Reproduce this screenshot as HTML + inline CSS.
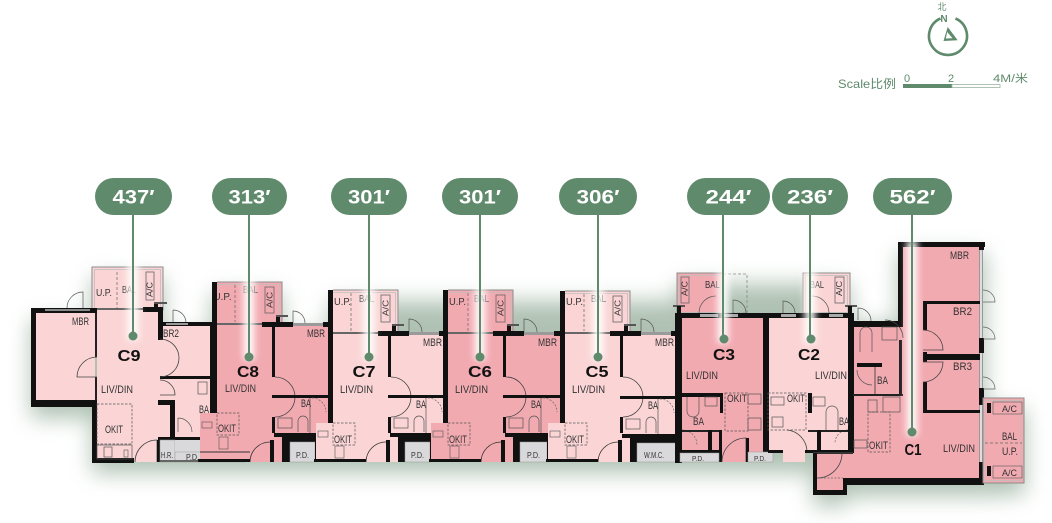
<!DOCTYPE html>
<html><head><meta charset="utf-8"><style>html,body{margin:0;padding:0;background:#fff;}svg{display:block;}</style></head>
<body>
<svg width="1052" height="523" viewBox="0 0 1052 523" xmlns="http://www.w3.org/2000/svg" font-family="'Liberation Sans', 'Noto Sans CJK SC', sans-serif">
<defs>
 <filter id="sh" x="-10%" y="-40%" width="120%" height="200%"><feGaussianBlur stdDeviation="11"/></filter>
 <filter id="gl" x="-100%" y="-20%" width="300%" height="140%"><feGaussianBlur stdDeviation="3.5"/></filter>
</defs>
<rect width="1052" height="523" fill="#fff"/>

<!-- shadow -->
<polygon filter="url(#sh)" fill="#7f9c85" opacity="0.62" transform="translate(0,11)" points="31,309 92,309 92,267 163,267 163,323 212,323 212,282 282,282 282,323 330,323 330,290 677,290 677,273 850,273 850,313 898,313 898,242 985,242 985,398 1025,398 1025,483 985,485 847,485 847,495 813,495 813,462 92,462 92,407 31,407"/>

<g fill="#333" font-size="10">
<!-- ================= C9 ================= -->
<rect x="92" y="267" width="71" height="43" fill="#fbd5d6" stroke="#8c8c8c" stroke-width="1"/>
<rect x="94.5" y="269.5" width="66" height="40" fill="none" stroke="#bdbdbd" stroke-width="0.8"/>
<line x1="117" y1="272" x2="117" y2="308" stroke="#666" stroke-width="0.7" stroke-dasharray="3 2"/>
<rect x="146" y="272" width="8" height="28" fill="none" stroke="#666" stroke-width="0.8"/>
<text x="96" y="296" textLength="16" lengthAdjust="spacingAndGlyphs">U.P.</text>
<text x="122" y="293" textLength="14" lengthAdjust="spacingAndGlyphs">BAL</text>
<text transform="translate(152.5,297) rotate(-90)" font-size="8" textLength="15" lengthAdjust="spacingAndGlyphs">A/C</text>
<rect x="154" y="303" width="4" height="8" fill="#111"/><rect x="154" y="302" width="13" height="2" fill="#555"/>
<path d="M67 308 A16 16 0 0 1 83 292 V308" fill="none" stroke="#555" stroke-width="0.7"/>
<path d="M173 310 A13 13 0 0 1 186 323 M173 310 V323" fill="none" stroke="#555" stroke-width="0.7"/>
<!-- fills -->
<rect x="36" y="313" width="59" height="87" fill="#fbd5d6"/>
<rect x="97" y="310" width="63" height="152" fill="#fbd5d6"/>
<rect x="160" y="325" width="52" height="115" fill="#fbd5d6"/>
<!-- walls -->
<rect x="31" y="308" width="66" height="5" fill="#111"/>
<rect x="45" y="309" width="45" height="2" fill="#888"/>
<rect x="31" y="308" width="5" height="99" fill="#111"/>
<rect x="31" y="400" width="66" height="7" fill="#111"/>
<rect x="92" y="400" width="5" height="63" fill="#111"/>
<rect x="92" y="458" width="42" height="5" fill="#111"/>
<rect x="95" y="313" width="2" height="44" fill="#222"/><rect x="95" y="377" width="2" height="23" fill="#222"/>
<rect x="97" y="308" width="46" height="2" fill="#666"/>
<rect x="143" y="307" width="20" height="5" fill="#111"/>
<rect x="158" y="308" width="5" height="32" fill="#111"/>
<rect x="160" y="322" width="52" height="4" fill="#111"/>
<rect x="166" y="323" width="22" height="2" fill="#999"/>
<rect x="210" y="322" width="7" height="93" fill="#111"/>
<rect x="160" y="376" width="52" height="3" fill="#111"/>
<rect x="158" y="400" width="17" height="5" fill="#111"/>
<rect x="170" y="400" width="5" height="40" fill="#111"/>
<rect x="158" y="437" width="87" height="3" fill="#111"/>
<path d="M97 357 A20 20 0 0 0 77 377 H97" fill="none" stroke="#444" stroke-width="0.8"/>
<path d="M160 339 A19 19 0 0 1 160 377" fill="none" stroke="#444" stroke-width="0.8"/>
<path d="M160 380 A15 15 0 0 1 175 395 H160" fill="none" stroke="#444" stroke-width="0.8"/>
<rect x="198" y="382" width="9" height="12" fill="none" stroke="#555" stroke-width="0.7"/>
<path d="M178 418 A14 14 0 0 1 192 432 M178 418 V432" fill="none" stroke="#555" stroke-width="0.7"/>
<!-- kitchen -->
<rect x="97" y="404" width="35" height="40" fill="none" stroke="#555" stroke-width="0.7" stroke-dasharray="2.5 1.5"/>
<rect x="97" y="445" width="35" height="14" fill="none" stroke="#555" stroke-width="0.7"/>
<rect x="104" y="447" width="8" height="10" fill="none" stroke="#555" stroke-width="0.7"/>
<rect x="124" y="450" width="4" height="7" fill="none" stroke="#555" stroke-width="0.6"/>
<path d="M135 462 A22 22 0 0 1 157 440 V462" fill="none" stroke="#444" stroke-width="0.8"/>
<rect x="157" y="440" width="3" height="22" fill="#111"/>
<rect x="160" y="440" width="15" height="22" fill="#d9d9db" stroke="#999" stroke-width="0.5"/>
<rect x="175" y="440" width="25" height="22" fill="#d9d9db"/>
<rect x="175" y="452" width="70" height="10" fill="#d9d9db" stroke="#999" stroke-width="0.5"/>
<rect x="160" y="460" width="85" height="2" fill="#666"/>
<text x="72" y="325" font-size="11" textLength="17" lengthAdjust="spacingAndGlyphs">MBR</text>
<text x="163" y="337" font-size="11" textLength="16" lengthAdjust="spacingAndGlyphs">BR2</text>
<text x="101" y="393" font-size="11" textLength="32" lengthAdjust="spacingAndGlyphs">LIV/DIN</text>
<text x="199" y="413" font-size="11" textLength="10" lengthAdjust="spacingAndGlyphs">BA</text>
<text x="105" y="433" font-size="11" textLength="18" lengthAdjust="spacingAndGlyphs">OKIT</text>
<text x="161" y="458" font-size="8" textLength="12" lengthAdjust="spacingAndGlyphs">H.R.</text>
<text x="186" y="460" font-size="8" textLength="13" lengthAdjust="spacingAndGlyphs">P.D.</text>

<!-- ================= C8 (L=212,T=323,B=282) ================= -->
<g transform="translate(212,0)">
 <rect x="5" y="282" width="65" height="41" fill="#f2aab1"/>
 <path d="M5 282 H70 V323" fill="none" stroke="#8c8c8c" stroke-width="1"/>
 <path d="M5 284.5 H67.5 V323" fill="none" stroke="#bdbdbd" stroke-width="0.8"/>
 <line x1="23" y1="285" x2="23" y2="322" stroke="#666" stroke-width="0.7" stroke-dasharray="3 2"/>
 <rect x="53" y="287" width="9" height="26" fill="none" stroke="#666" stroke-width="0.8"/>
 <text x="1.5" y="300" textLength="18" lengthAdjust="spacingAndGlyphs">U.P.</text>
 <text x="31" y="293" textLength="15" lengthAdjust="spacingAndGlyphs">BAL</text>
 <text transform="translate(60.5,308) rotate(-90)" font-size="8" textLength="16" lengthAdjust="spacingAndGlyphs">A/C</text>
 <rect x="64" y="316" width="4" height="8" fill="#111"/><rect x="64" y="315" width="12" height="2" fill="#555"/>
 <path d="M81 323 V311 A12 12 0 0 1 93 323" fill="none" stroke="#555" stroke-width="0.7"/>
 <rect x="5" y="323" width="113" height="139" fill="#f2aab1"/>
 <rect x="-12" y="413" width="17" height="49" fill="#f2aab1"/>
 <rect x="0" y="282" width="5" height="131" fill="#111"/>
 <rect x="5" y="323" width="45" height="2" fill="#666"/>
 <rect x="50" y="322" width="31" height="5" fill="#111"/>
 <rect x="81" y="323" width="30" height="3" fill="#9a9a9a"/>
 <rect x="111" y="322" width="7" height="5" fill="#111"/>
 <rect x="60" y="325" width="3" height="52" fill="#111"/>
 <path d="M63 377 A20 20 0 0 1 63 417" fill="none" stroke="#444" stroke-width="0.8"/>
 <rect x="60" y="395" width="58" height="3" fill="#111"/>
 <rect x="60" y="417" width="3" height="16" fill="#111"/>
 <rect x="66" y="418" width="14" height="10" fill="none" stroke="#555" stroke-width="0.7"/>
 <path d="M86 432 V421 A5 5 0 0 1 96 421 V432" fill="none" stroke="#555" stroke-width="0.7"/>
 <line x1="98" y1="398" x2="98" y2="433" stroke="#555" stroke-width="0.7"/>
 <path d="M100 398 A14 14 0 0 1 114 412" fill="none" stroke="#666" stroke-width="0.7" stroke-dasharray="2 1.5"/>
 <text x="89" y="407" font-size="11" textLength="10" lengthAdjust="spacingAndGlyphs">BA</text>
 <rect x="62" y="433" width="56" height="4" fill="#111"/>
 <rect x="70" y="437" width="48" height="5" fill="#111"/>
 <rect x="70" y="437" width="8" height="25" fill="#111"/>
 <rect x="78" y="442" width="25" height="20" fill="#d9d9db" stroke="#999" stroke-width="0.5"/>
 <rect x="103" y="437" width="3" height="25" fill="#111"/>
 <text x="84" y="458" font-size="8" textLength="13" lengthAdjust="spacingAndGlyphs">P.D.</text>
 <path d="M38 462 A20 20 0 0 1 58 442" fill="none" stroke="#333" stroke-width="0.8"/>
 <rect x="58" y="440" width="4" height="22" fill="#111"/>
 <rect x="5" y="413" width="22" height="22" fill="none" stroke="#555" stroke-width="0.7" stroke-dasharray="2.5 1.5"/>
 <rect x="-10" y="422" width="10" height="6" fill="none" stroke="#555" stroke-width="0.6"/>
 <rect x="7" y="437" width="9" height="12" fill="none" stroke="#555" stroke-width="0.6"/>
 <line x1="-12" y1="452" x2="38" y2="452" stroke="#333" stroke-width="1"/>
 <rect x="-14" y="459" width="52" height="3" fill="#111"/>
 <text x="6" y="432" font-size="11" textLength="18" lengthAdjust="spacingAndGlyphs">OKIT</text>
 <text x="95" y="337" font-size="11" textLength="18" lengthAdjust="spacingAndGlyphs">MBR</text>
 <text x="13" y="392" font-size="11" textLength="31" lengthAdjust="spacingAndGlyphs">LIV/DIN</text>
</g>

<!-- ================= C7 (L=328,T=332,B=290) ================= -->
<g transform="translate(328,0)">
 <rect x="5" y="290" width="65" height="42" fill="#fbd5d6"/>
 <path d="M5 290 H70 V332" fill="none" stroke="#8c8c8c" stroke-width="1"/>
 <path d="M5 292.5 H67.5 V332" fill="none" stroke="#bdbdbd" stroke-width="0.8"/>
 <line x1="23" y1="293" x2="23" y2="331" stroke="#666" stroke-width="0.7" stroke-dasharray="3 2"/>
 <rect x="53" y="295" width="9" height="27" fill="none" stroke="#666" stroke-width="0.8"/>
 <text x="6" y="305" textLength="17" lengthAdjust="spacingAndGlyphs">U.P.</text>
 <text x="31" y="302" textLength="15" lengthAdjust="spacingAndGlyphs">BAL</text>
 <text transform="translate(60.5,316) rotate(-90)" font-size="8" textLength="16" lengthAdjust="spacingAndGlyphs">A/C</text>
 <rect x="64" y="325" width="4" height="8" fill="#111"/><rect x="64" y="324" width="12" height="2" fill="#555"/>
 <path d="M81 332 V319 A13 13 0 0 1 94 332" fill="none" stroke="#555" stroke-width="0.7"/>
 <rect x="5" y="332" width="113" height="130" fill="#fbd5d6"/>
 <rect x="-12" y="423" width="17" height="39" fill="#fbd5d6"/>
 <rect x="0" y="290" width="5" height="133" fill="#111"/>
 <rect x="5" y="332" width="45" height="2" fill="#666"/>
 <rect x="50" y="331" width="31" height="5" fill="#111"/>
 <rect x="81" y="332" width="30" height="3" fill="#9a9a9a"/>
 <rect x="111" y="331" width="7" height="5" fill="#111"/>
 <rect x="60" y="334" width="3" height="43" fill="#111"/>
 <path d="M63 377 A20 20 0 0 1 63 417" fill="none" stroke="#444" stroke-width="0.8"/>
 <rect x="60" y="395" width="58" height="3" fill="#111"/>
 <rect x="60" y="417" width="3" height="16" fill="#111"/>
 <rect x="66" y="418" width="14" height="10" fill="none" stroke="#555" stroke-width="0.7"/>
 <path d="M86 432 V421 A5 5 0 0 1 96 421 V432" fill="none" stroke="#555" stroke-width="0.7"/>
 <line x1="98" y1="398" x2="98" y2="433" stroke="#555" stroke-width="0.7"/>
 <path d="M100 398 A14 14 0 0 1 114 412" fill="none" stroke="#666" stroke-width="0.7" stroke-dasharray="2 1.5"/>
 <text x="88" y="408" font-size="11" textLength="10" lengthAdjust="spacingAndGlyphs">BA</text>
 <rect x="62" y="433" width="56" height="4" fill="#111"/>
 <rect x="70" y="437" width="48" height="5" fill="#111"/>
 <rect x="70" y="437" width="7" height="25" fill="#111"/>
 <rect x="77" y="442" width="25" height="20" fill="#d9d9db" stroke="#999" stroke-width="0.5"/>
 <rect x="102" y="437" width="3" height="25" fill="#111"/>
 <text x="83" y="458" font-size="8" textLength="13" lengthAdjust="spacingAndGlyphs">P.D.</text>
 <path d="M38 462 A20 20 0 0 1 58 442" fill="none" stroke="#333" stroke-width="0.8"/>
 <rect x="58" y="440" width="4" height="22" fill="#111"/>
 <rect x="5" y="423" width="22" height="22" fill="none" stroke="#555" stroke-width="0.7" stroke-dasharray="2.5 1.5"/>
 <rect x="-10" y="431" width="10" height="6" fill="none" stroke="#555" stroke-width="0.6"/>
 <rect x="7" y="446" width="9" height="12" fill="none" stroke="#555" stroke-width="0.6"/>
 <rect x="-14" y="459" width="52" height="3" fill="#111"/>
 <text x="6" y="443" font-size="11" textLength="18" lengthAdjust="spacingAndGlyphs">OKIT</text>
 <text x="95" y="346" font-size="11" textLength="19" lengthAdjust="spacingAndGlyphs">MBR</text>
 <text x="12" y="393" font-size="11" textLength="33" lengthAdjust="spacingAndGlyphs">LIV/DIN</text>
</g>

<!-- ================= C6 (L=443,T=332,B=290) ================= -->
<g transform="translate(443,0)">
 <rect x="5" y="290" width="65" height="42" fill="#f2aab1"/>
 <path d="M5 290 H70 V332" fill="none" stroke="#8c8c8c" stroke-width="1"/>
 <path d="M5 292.5 H67.5 V332" fill="none" stroke="#bdbdbd" stroke-width="0.8"/>
 <line x1="25" y1="293" x2="25" y2="331" stroke="#666" stroke-width="0.7" stroke-dasharray="3 2"/>
 <rect x="53" y="295" width="9" height="27" fill="none" stroke="#666" stroke-width="0.8"/>
 <text x="6" y="305" textLength="17" lengthAdjust="spacingAndGlyphs">U.P.</text>
 <text x="31" y="302" textLength="15" lengthAdjust="spacingAndGlyphs">BAL</text>
 <text transform="translate(60.5,316) rotate(-90)" font-size="8" textLength="16" lengthAdjust="spacingAndGlyphs">A/C</text>
 <rect x="64" y="325" width="4" height="8" fill="#111"/><rect x="64" y="324" width="12" height="2" fill="#555"/>
 <path d="M81 332 V319 A13 13 0 0 1 94 332" fill="none" stroke="#555" stroke-width="0.7"/>
 <rect x="5" y="332" width="114" height="130" fill="#f2aab1"/>
 <rect x="-12" y="423" width="17" height="39" fill="#f2aab1"/>
 <rect x="0" y="290" width="5" height="133" fill="#111"/>
 <rect x="5" y="332" width="45" height="2" fill="#666"/>
 <rect x="50" y="331" width="31" height="5" fill="#111"/>
 <rect x="81" y="332" width="30" height="3" fill="#9a9a9a"/>
 <rect x="111" y="331" width="7" height="5" fill="#111"/>
 <rect x="60" y="334" width="3" height="43" fill="#111"/>
 <path d="M63 377 A20 20 0 0 1 63 417" fill="none" stroke="#444" stroke-width="0.8"/>
 <rect x="60" y="395" width="58" height="3" fill="#111"/>
 <rect x="60" y="417" width="3" height="16" fill="#111"/>
 <rect x="66" y="418" width="14" height="10" fill="none" stroke="#555" stroke-width="0.7"/>
 <path d="M86 432 V421 A5 5 0 0 1 96 421 V432" fill="none" stroke="#555" stroke-width="0.7"/>
 <line x1="98" y1="398" x2="98" y2="433" stroke="#555" stroke-width="0.7"/>
 <path d="M100 398 A14 14 0 0 1 114 412" fill="none" stroke="#666" stroke-width="0.7" stroke-dasharray="2 1.5"/>
 <text x="88" y="408" font-size="11" textLength="10" lengthAdjust="spacingAndGlyphs">BA</text>
 <rect x="62" y="433" width="56" height="4" fill="#111"/>
 <rect x="70" y="437" width="48" height="5" fill="#111"/>
 <rect x="70" y="437" width="7" height="25" fill="#111"/>
 <rect x="77" y="442" width="27" height="20" fill="#d9d9db" stroke="#999" stroke-width="0.5"/>
 <rect x="104" y="437" width="3" height="25" fill="#111"/>
 <text x="84" y="458" font-size="8" textLength="13" lengthAdjust="spacingAndGlyphs">P.D.</text>
 <path d="M38 462 A20 20 0 0 1 58 442" fill="none" stroke="#333" stroke-width="0.8"/>
 <rect x="58" y="440" width="4" height="22" fill="#111"/>
 <rect x="5" y="423" width="22" height="22" fill="none" stroke="#555" stroke-width="0.7" stroke-dasharray="2.5 1.5"/>
 <rect x="-10" y="431" width="10" height="6" fill="none" stroke="#555" stroke-width="0.6"/>
 <rect x="7" y="446" width="9" height="12" fill="none" stroke="#555" stroke-width="0.6"/>
 <rect x="-14" y="459" width="52" height="3" fill="#111"/>
 <text x="6" y="443" font-size="11" textLength="18" lengthAdjust="spacingAndGlyphs">OKIT</text>
 <text x="95" y="346" font-size="11" textLength="19" lengthAdjust="spacingAndGlyphs">MBR</text>
 <text x="12" y="393" font-size="11" textLength="33" lengthAdjust="spacingAndGlyphs">LIV/DIN</text>
</g>

<!-- ================= C5 (L=560,T=332,B=291) ================= -->
<g transform="translate(560,0)">
 <rect x="5" y="291" width="65" height="41" fill="#fbd5d6"/>
 <path d="M5 291 H70 V332" fill="none" stroke="#8c8c8c" stroke-width="1"/>
 <path d="M5 293.5 H67.5 V332" fill="none" stroke="#bdbdbd" stroke-width="0.8"/>
 <line x1="24" y1="294" x2="24" y2="331" stroke="#666" stroke-width="0.7" stroke-dasharray="3 2"/>
 <rect x="53" y="296" width="9" height="26" fill="none" stroke="#666" stroke-width="0.8"/>
 <text x="6" y="305" textLength="17" lengthAdjust="spacingAndGlyphs">U.P.</text>
 <text x="31" y="302" textLength="15" lengthAdjust="spacingAndGlyphs">BAL</text>
 <text transform="translate(60.5,316) rotate(-90)" font-size="8" textLength="16" lengthAdjust="spacingAndGlyphs">A/C</text>
 <rect x="64" y="325" width="4" height="8" fill="#111"/><rect x="64" y="324" width="12" height="2" fill="#555"/>
 <path d="M81 332 V319 A13 13 0 0 1 94 332" fill="none" stroke="#555" stroke-width="0.7"/>
 <rect x="5" y="332" width="113" height="130" fill="#fbd5d6"/>
 <rect x="-12" y="423" width="17" height="39" fill="#fbd5d6"/>
 <rect x="0" y="291" width="5" height="132" fill="#111"/>
 <rect x="5" y="332" width="45" height="2" fill="#666"/>
 <rect x="50" y="331" width="31" height="5" fill="#111"/>
 <rect x="81" y="332" width="30" height="3" fill="#9a9a9a"/>
 <rect x="111" y="331" width="7" height="5" fill="#111"/>
 <rect x="60" y="334" width="3" height="43" fill="#111"/>
 <path d="M63 377 A20 20 0 0 1 63 417" fill="none" stroke="#444" stroke-width="0.8"/>
 <rect x="60" y="396" width="58" height="3" fill="#111"/>
 <rect x="60" y="417" width="3" height="16" fill="#111"/>
 <rect x="66" y="419" width="14" height="10" fill="none" stroke="#555" stroke-width="0.7"/>
 <path d="M86 433 V422 A5 5 0 0 1 96 422 V433" fill="none" stroke="#555" stroke-width="0.7"/>
 <line x1="98" y1="399" x2="98" y2="434" stroke="#555" stroke-width="0.7"/>
 <path d="M100 399 A14 14 0 0 1 114 413" fill="none" stroke="#666" stroke-width="0.7" stroke-dasharray="2 1.5"/>
 <text x="88" y="409" font-size="11" textLength="10" lengthAdjust="spacingAndGlyphs">BA</text>
 <rect x="62" y="434" width="56" height="4" fill="#111"/>
 <rect x="70" y="438" width="48" height="5" fill="#111"/>
 <rect x="70" y="438" width="7" height="24" fill="#111"/>
 <rect x="77" y="443" width="41" height="19" fill="#d9d9db" stroke="#999" stroke-width="0.5"/>
 <text x="84" y="458" font-size="8" textLength="20" lengthAdjust="spacingAndGlyphs">W.M.C.</text>
 <path d="M38 462 A20 20 0 0 1 58 442" fill="none" stroke="#333" stroke-width="0.8"/>
 <rect x="58" y="440" width="4" height="22" fill="#111"/>
 <rect x="5" y="423" width="22" height="22" fill="none" stroke="#555" stroke-width="0.7" stroke-dasharray="2.5 1.5"/>
 <rect x="-10" y="431" width="10" height="6" fill="none" stroke="#555" stroke-width="0.6"/>
 <rect x="7" y="446" width="9" height="12" fill="none" stroke="#555" stroke-width="0.6"/>
 <rect x="-14" y="459" width="52" height="3" fill="#111"/>
 <text x="6" y="443" font-size="11" textLength="18" lengthAdjust="spacingAndGlyphs">OKIT</text>
 <text x="95" y="346" font-size="11" textLength="19" lengthAdjust="spacingAndGlyphs">MBR</text>
 <text x="12" y="393" font-size="11" textLength="33" lengthAdjust="spacingAndGlyphs">LIV/DIN</text>
</g>

<!-- ================= C3 ================= -->
<rect x="677" y="273" width="46" height="40" fill="#f2aab1" stroke="#8c8c8c" stroke-width="1"/>
<rect x="679.5" y="275.5" width="41" height="37" fill="none" stroke="#bdbdbd" stroke-width="0.8"/>
<rect x="723" y="274" width="24" height="39" fill="none" stroke="#888" stroke-width="0.8" stroke-dasharray="3 2"/>
<rect x="681" y="277" width="8" height="26" fill="none" stroke="#666" stroke-width="0.8"/>
<text transform="translate(687.5,296) rotate(-90)" font-size="8" textLength="15" lengthAdjust="spacingAndGlyphs">A/C</text>
<text x="705" y="288" textLength="15" lengthAdjust="spacingAndGlyphs">BAL</text>
<path d="M699 313 A17 17 0 0 1 716 296" fill="none" stroke="#555" stroke-width="0.7"/>
<path d="M733 313 V300 A13 13 0 0 1 746 313" fill="none" stroke="#555" stroke-width="0.7"/>
<rect x="673" y="305" width="12" height="2" fill="#555"/><rect x="677" y="306" width="4" height="8" fill="#111"/>
<rect x="682" y="318" width="81" height="144" fill="#f2aab1"/>
<rect x="675" y="313" width="95" height="5" fill="#111"/>
<rect x="700" y="314" width="18" height="3" fill="#aaa"/>
<rect x="724" y="314" width="14" height="3" fill="#aaa"/>
<rect x="675" y="313" width="7" height="150" fill="#111"/>
<rect x="763" y="313" width="6" height="149" fill="#111"/>
<rect x="682" y="393" width="40" height="4" fill="#111"/>
<rect x="720" y="393" width="3" height="20" fill="#111"/>
<path d="M687 397 V411 A6 6 0 0 0 699 411 V397" fill="none" stroke="#555" stroke-width="0.7"/>
<rect x="705" y="397" width="12" height="9" fill="none" stroke="#555" stroke-width="0.7"/>
<path d="M682 430 A15 15 0 0 1 697 445" fill="none" stroke="#666" stroke-width="0.7" stroke-dasharray="2 1.5"/>
<text x="693" y="425" font-size="11" textLength="11" lengthAdjust="spacingAndGlyphs">BA</text>
<rect x="682" y="430" width="40" height="2" fill="#222"/>
<rect x="708" y="430" width="4" height="23" fill="#111"/>
<rect x="719" y="430" width="3" height="32" fill="#111"/>
<rect x="725" y="393" width="23" height="38" fill="none" stroke="#555" stroke-width="0.7" stroke-dasharray="2.5 1.5"/>
<rect x="748" y="394" width="13" height="10" fill="none" stroke="#555" stroke-width="0.7"/>
<rect x="748" y="418" width="13" height="12" fill="none" stroke="#555" stroke-width="0.7"/>
<text x="727" y="402" font-size="11" textLength="20" lengthAdjust="spacingAndGlyphs">OKIT</text>
<rect x="680" y="450" width="42" height="3" fill="#111"/>
<rect x="680" y="453" width="39" height="9" fill="#d9d9db" stroke="#999" stroke-width="0.5"/>
<text x="692" y="461" font-size="7" textLength="12" lengthAdjust="spacingAndGlyphs">P.D.</text>
<path d="M722 462 A24 24 0 0 1 746 438 V462" fill="none" stroke="#444" stroke-width="0.8"/>
<rect x="746" y="438" width="3" height="24" fill="#111"/>
<rect x="748" y="452" width="25" height="10" fill="#d9d9db" stroke="#999" stroke-width="0.5"/>
<text x="754" y="461" font-size="7" textLength="12" lengthAdjust="spacingAndGlyphs">P.D.</text>
<text x="686" y="379" font-size="11" textLength="32" lengthAdjust="spacingAndGlyphs">LIV/DIN</text>

<!-- ================= C2 ================= -->
<rect x="803" y="273" width="47" height="40" fill="#fbd5d6" stroke="#8c8c8c" stroke-width="1"/>
<rect x="805.5" y="275.5" width="42" height="37" fill="none" stroke="#bdbdbd" stroke-width="0.8"/>
<rect x="835" y="277" width="9" height="26" fill="none" stroke="#666" stroke-width="0.8"/>
<text transform="translate(842,296) rotate(-90)" font-size="8" textLength="15" lengthAdjust="spacingAndGlyphs">A/C</text>
<text x="810" y="288" textLength="14" lengthAdjust="spacingAndGlyphs">BAL</text>
<path d="M812 296 A17 17 0 0 1 829 313" fill="none" stroke="#555" stroke-width="0.7"/>
<path d="M783 313 V301 A12 12 0 0 1 795 313" fill="none" stroke="#555" stroke-width="0.7"/>
<path d="M858 320 V308 A13 13 0 0 1 871 321" fill="none" stroke="#555" stroke-width="0.7"/>
<rect x="845" y="305" width="12" height="2" fill="#555"/><rect x="848" y="306" width="4" height="8" fill="#111"/>
<rect x="769" y="318" width="79" height="134" fill="#fbd5d6"/>
<rect x="783" y="452" width="22" height="10" fill="#fbd5d6"/>
<rect x="766" y="313" width="88" height="5" fill="#111"/>
<rect x="781" y="314" width="15" height="3" fill="#aaa"/>
<rect x="829" y="314" width="14" height="3" fill="#aaa"/>
<rect x="848" y="313" width="6" height="140" fill="#111"/>
<rect x="768" y="393" width="38" height="37" fill="none" stroke="#555" stroke-width="0.7" stroke-dasharray="2.5 1.5"/>
<rect x="771" y="397" width="13" height="8" fill="none" stroke="#555" stroke-width="0.7"/>
<rect x="772" y="417" width="11" height="10" fill="none" stroke="#555" stroke-width="0.7"/>
<text x="787" y="402" font-size="11" textLength="18" lengthAdjust="spacingAndGlyphs">OKIT</text>
<rect x="808" y="393" width="4" height="20" fill="#111"/>
<rect x="813" y="397" width="12" height="9" fill="none" stroke="#555" stroke-width="0.7"/>
<path d="M826 430 V412 A6 6 0 0 1 838 412 V430" fill="none" stroke="#555" stroke-width="0.7"/>
<path d="M848 430 A13 13 0 0 0 835 443" fill="none" stroke="#666" stroke-width="0.7" stroke-dasharray="2 1.5"/>
<text x="839" y="425" font-size="11" textLength="10" lengthAdjust="spacingAndGlyphs">BA</text>
<rect x="808" y="430" width="40" height="2" fill="#222"/>
<rect x="817" y="430" width="4" height="22" fill="#111"/>
<path d="M787 430 A22 22 0 0 1 807 452" fill="none" stroke="#444" stroke-width="0.8"/>
<rect x="768" y="450" width="15" height="3" fill="#111"/>
<rect x="805" y="450" width="48" height="3" fill="#111"/>
<text x="815" y="379" font-size="11" textLength="32" lengthAdjust="spacingAndGlyphs">LIV/DIN</text>

<!-- ================= C1 ================= -->
<rect x="903" y="247" width="77" height="150" fill="#f2aab1"/>
<rect x="854" y="327" width="49" height="70" fill="#f2aab1"/>
<rect x="852" y="395" width="130" height="83" fill="#f2aab1"/>
<rect x="817" y="453" width="36" height="25" fill="#f2aab1"/>
<rect x="817" y="478" width="27" height="13" fill="#f2aab1"/>
<rect x="898" y="242" width="87" height="5" fill="#111"/>
<rect x="898" y="242" width="5" height="85" fill="#111"/>
<rect x="853" y="321" width="50" height="6" fill="#111"/>
<rect x="850" y="321" width="4" height="132" fill="#111"/>
<rect x="979" y="247" width="4" height="231" fill="#999"/>
<rect x="980" y="247" width="2" height="231" fill="#ddd"/>
<rect x="979" y="242" width="5" height="8" fill="#111"/>
<rect x="979" y="338" width="5" height="15" fill="#111"/>
<rect x="979" y="388" width="5" height="17" fill="#111"/>
<rect x="979" y="462" width="5" height="23" fill="#111"/>
<rect x="923" y="301" width="57" height="3" fill="#111"/>
<rect x="923" y="301" width="4" height="29" fill="#111"/>
<rect x="923" y="352" width="4" height="10" fill="#111"/>
<rect x="923" y="382" width="4" height="31" fill="#111"/>
<rect x="923" y="354" width="57" height="6" fill="#111"/>
<rect x="923" y="410" width="57" height="3" fill="#111"/>
<path d="M923 330 A20 20 0 0 1 943 350 H923" fill="none" stroke="#444" stroke-width="0.8"/>
<path d="M923 382 A20 20 0 0 0 943 362 H923" fill="none" stroke="#444" stroke-width="0.8"/>
<path d="M903 338 A18 18 0 0 0 885 320" fill="none" stroke="#444" stroke-width="0.8"/>
<path d="M983 290 A12 12 0 0 1 995 302 H983 M983 327 A12 12 0 0 1 995 339 H983 M983 377 A12 12 0 0 1 995 389 H983" fill="none" stroke="#666" stroke-width="0.7"/>
<!-- BA area -->
<path d="M860 352 V333 A6 6 0 0 1 872 333 V352" fill="none" stroke="#555" stroke-width="0.7"/>
<rect x="882" y="327" width="15" height="13" fill="none" stroke="#555" stroke-width="0.7"/>
<rect x="857" y="363" width="25" height="4" fill="#111"/>
<line x1="875" y1="367" x2="875" y2="395" stroke="#333" stroke-width="0.8"/>
<rect x="899" y="340" width="3" height="55" fill="#222"/>
<path d="M857 370 A15 15 0 0 0 872 385" fill="none" stroke="#555" stroke-width="0.7"/>
<text x="877" y="384" font-size="11" textLength="11" lengthAdjust="spacingAndGlyphs">BA</text>
<rect x="853" y="394" width="50" height="2" fill="#222"/>
<rect x="868" y="400" width="9" height="12" fill="none" stroke="#555" stroke-width="0.7"/>
<rect x="883" y="397" width="17" height="15" fill="none" stroke="#555" stroke-width="0.7"/>
<rect x="868" y="412" width="22" height="40" fill="none" stroke="#555" stroke-width="0.7" stroke-dasharray="2.5 1.5"/>
<rect x="854" y="440" width="13" height="8" fill="none" stroke="#555" stroke-width="0.7"/>
<text x="869" y="449" font-size="11" textLength="19" lengthAdjust="spacingAndGlyphs">OKIT</text>
<rect x="813" y="452" width="40" height="2" fill="#333"/>
<rect x="843" y="478" width="141" height="7" fill="#111"/>
<rect x="813" y="453" width="4" height="42" fill="#111"/>
<rect x="813" y="490" width="34" height="5" fill="#111"/>
<rect x="843" y="478" width="4" height="17" fill="#111"/>
<path d="M817 478 A25 25 0 0 0 842 453" fill="none" stroke="#444" stroke-width="0.8"/>
<line x1="817" y1="478" x2="843" y2="478" stroke="#666" stroke-width="0.7" stroke-dasharray="2 1.5"/>
<!-- right balcony -->
<rect x="983" y="398" width="41" height="85" fill="#f2aab1" stroke="#8c8c8c" stroke-width="1"/>
<rect x="985.5" y="400.5" width="36" height="80" fill="none" stroke="#bdbdbd" stroke-width="0.8"/>
<rect x="987" y="403" width="4" height="10" fill="#111"/><rect x="987" y="466" width="4" height="10" fill="#111"/>
<rect x="993" y="402" width="29" height="12" fill="none" stroke="#666" stroke-width="0.7"/>
<rect x="993" y="466" width="29" height="12" fill="none" stroke="#666" stroke-width="0.7"/>
<line x1="985" y1="443" x2="1022" y2="443" stroke="#666" stroke-width="0.7" stroke-dasharray="3 2"/>
<text x="1002" y="412" font-size="9" textLength="15" lengthAdjust="spacingAndGlyphs">A/C</text>
<text x="1002" y="440" font-size="11" textLength="15" lengthAdjust="spacingAndGlyphs">BAL</text>
<text x="1002" y="455" font-size="11" textLength="16" lengthAdjust="spacingAndGlyphs">U.P.</text>
<text x="1002" y="476" font-size="9" textLength="15" lengthAdjust="spacingAndGlyphs">A/C</text>
<text x="950" y="259" font-size="11" textLength="19" lengthAdjust="spacingAndGlyphs">MBR</text>
<text x="953" y="315" font-size="11" textLength="19" lengthAdjust="spacingAndGlyphs">BR2</text>
<text x="953" y="370" font-size="11" textLength="19" lengthAdjust="spacingAndGlyphs">BR3</text>
<text x="943" y="452" font-size="11" textLength="32" lengthAdjust="spacingAndGlyphs">LIV/DIN</text>
</g>

<!-- ================= connectors ================= -->
<g stroke="#fff" stroke-width="11" opacity="0.9" filter="url(#gl)" fill="#fff">
 <line x1="133" y1="262" x2="133" y2="340"/>
 <line x1="249" y1="278" x2="249" y2="360"/>
 <line x1="369" y1="288" x2="369" y2="360"/>
 <line x1="480" y1="288" x2="480" y2="360"/>
 <line x1="598" y1="288" x2="598" y2="360"/>
 <line x1="723" y1="270" x2="723" y2="343"/>
 <line x1="810" y1="270" x2="810" y2="343"/>
 <line x1="912" y1="240" x2="912" y2="436"/>
</g>
<g stroke="#5f8a6b" stroke-width="2">
 <line x1="133" y1="214" x2="133" y2="336"/>
 <line x1="249" y1="214" x2="249" y2="357"/>
 <line x1="369" y1="214" x2="369" y2="357"/>
 <line x1="480" y1="214" x2="480" y2="357"/>
 <line x1="598" y1="214" x2="598" y2="357"/>
 <line x1="723" y1="214" x2="723" y2="339"/>
 <line x1="810" y1="214" x2="810" y2="339"/>
 <line x1="912" y1="214" x2="912" y2="432"/>
</g>
<g fill="#5f8a6b">
 <circle cx="133" cy="336" r="4.5"/>
 <circle cx="249" cy="357" r="4.5"/>
 <circle cx="369" cy="357" r="4.5"/>
 <circle cx="480" cy="357" r="4.5"/>
 <circle cx="598" cy="357" r="4.5"/>
 <circle cx="724" cy="339" r="4.5"/>
 <circle cx="811" cy="339" r="4.5"/>
 <circle cx="912" cy="432" r="4.5"/>
</g>

<!-- unit labels -->
<g fill="#111" font-weight="bold" font-size="16" text-anchor="middle">
 <text x="129" y="361" textLength="23" lengthAdjust="spacingAndGlyphs">C9</text>
 <text x="248" y="377" textLength="22" lengthAdjust="spacingAndGlyphs">C8</text>
 <text x="364" y="377" textLength="23" lengthAdjust="spacingAndGlyphs">C7</text>
 <text x="480" y="377" textLength="24" lengthAdjust="spacingAndGlyphs">C6</text>
 <text x="597" y="377" textLength="23" lengthAdjust="spacingAndGlyphs">C5</text>
 <text x="724" y="360" textLength="22" lengthAdjust="spacingAndGlyphs">C3</text>
 <text x="809" y="360" textLength="22" lengthAdjust="spacingAndGlyphs">C2</text>
 <text x="913" y="455" textLength="17" lengthAdjust="spacingAndGlyphs">C1</text>
</g>

<!-- pills -->
<g fill="#5f8a6b">
 <rect x="95" y="178" width="77" height="37" rx="18.5"/>
 <rect x="212" y="178" width="75" height="37" rx="18.5"/>
 <rect x="331" y="178" width="76" height="37" rx="18.5"/>
 <rect x="442" y="178" width="76" height="37" rx="18.5"/>
 <rect x="559" y="178" width="78" height="37" rx="18.5"/>
 <rect x="687" y="178" width="83" height="37" rx="18.5"/>
 <rect x="772" y="178" width="76" height="37" rx="18.5"/>
 <rect x="873" y="178" width="79" height="37" rx="18.5"/>
</g>
<g fill="#fff" font-weight="bold" font-size="19" text-anchor="middle">
 <text x="133.5" y="203.5" textLength="42" lengthAdjust="spacingAndGlyphs">437′</text>
 <text x="249.5" y="203.5" textLength="42" lengthAdjust="spacingAndGlyphs">313′</text>
 <text x="369" y="203.5" textLength="42" lengthAdjust="spacingAndGlyphs">301′</text>
 <text x="480" y="203.5" textLength="42" lengthAdjust="spacingAndGlyphs">301′</text>
 <text x="598" y="203.5" textLength="43" lengthAdjust="spacingAndGlyphs">306′</text>
 <text x="728.5" y="203.5" textLength="46" lengthAdjust="spacingAndGlyphs">244′</text>
 <text x="810" y="203.5" textLength="46" lengthAdjust="spacingAndGlyphs">236′</text>
 <text x="912.5" y="203.5" textLength="46" lengthAdjust="spacingAndGlyphs">562′</text>
</g>

<!-- compass -->
<path d="M955.5 18.5 A19 19 0 1 1 940.5 18.5" fill="none" stroke="#5f8a6b" stroke-width="2.6"/>
<polygon points="947.7,27 943.5,41 957.7,40.2" fill="#5f8a6b"/>
<polygon points="947.2,32 945.8,38.5 952.5,38.2" fill="#fff"/>
<text x="944" y="22" font-size="10" font-weight="bold" fill="#5f8a6b" text-anchor="middle">N</text>
<text x="942" y="10" font-size="9" fill="#5f8a6b" text-anchor="middle" font-family="'Liberation Sans','Noto Sans CJK SC',sans-serif">北</text>

<!-- scale -->
<text x="838" y="88" font-size="12" fill="#5f8a6b" textLength="58" lengthAdjust="spacingAndGlyphs" font-family="'Liberation Sans','Noto Sans CJK SC',sans-serif">Scale比例</text>
<text x="904" y="82" font-size="11" fill="#5f8a6b">0</text>
<text x="948" y="82" font-size="11" fill="#5f8a6b">2</text>
<text x="993" y="82" font-size="11" fill="#5f8a6b" textLength="35" lengthAdjust="spacingAndGlyphs" font-family="'Liberation Sans','Noto Sans CJK SC',sans-serif">4M/米</text>
<rect x="903" y="84" width="49" height="4" fill="#5f8a6b"/>
<rect x="952" y="84.5" width="48" height="3" fill="#fff" stroke="#9bb3a0" stroke-width="0.8"/>
</svg>
</body></html>
